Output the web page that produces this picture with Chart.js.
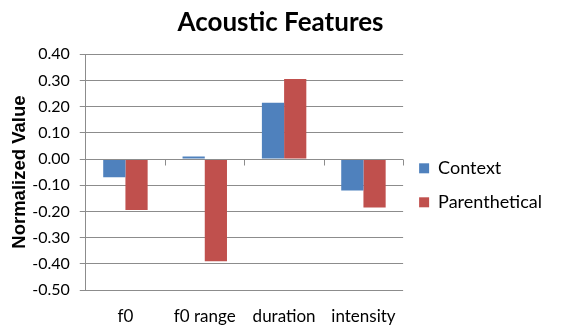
<!DOCTYPE html>
<html>
<head>
<meta charset="utf-8">
<script src="https://cdn.jsdelivr.net/npm/chart.js@4/dist/chart.umd.min.js"></script>
<style>
  html, body { margin: 0; padding: 0; background: #fff; }
  #wrap { width: 565px; height: 327px; }
</style>
</head>
<body>
<div id="wrap"><canvas id="chart" width="565" height="327"></canvas></div>
<script>
// Acoustic Features - grouped bars.
const categories   = ['f0', 'f0 range', 'duration', 'intensity'];
const context      = [-0.07, 0.01, 0.215, -0.12];
const parenthetical = [-0.195, -0.39, 0.305, -0.185];
const yTicks = [0.40, 0.30, 0.20, 0.10, 0.00, -0.10, -0.20, -0.30, -0.40, -0.50];

const BLUE = '#4F81BD';
const RED = '#C0504D';
const GRID = '#8c8c8c';
const FONT = 'Lato, "Open Sans", sans-serif';
const ARIAL = '"Liberation Sans", Arial, sans-serif';

// Excel draws the category axis at zero, with small tick marks between groups
const zeroAxis = {
  id: 'zeroAxis',
  afterDatasetsDraw(chart) {
    const { ctx, scales: { x, y } } = chart;
    const y0 = Math.round(y.getPixelForValue(0)) + 0.5;
    ctx.save();
    ctx.strokeStyle = GRID;
    ctx.lineWidth = 1;
    ctx.beginPath();
    ctx.moveTo(x.left, y0);
    ctx.lineTo(x.right, y0);
    for (let i = 1; i <= categories.length; i++) {
      const px = Math.round(x.getPixelForValue(i - 0.5)) + 0.5;
      ctx.moveTo(px, y0);
      ctx.lineTo(px, y0 + 6);
    }
    ctx.stroke();
    ctx.restore();
  },
};

new Chart(document.getElementById('chart'), {
  type: 'bar',
  data: {
    labels: categories,
    datasets: [
      { label: 'Context', data: context, backgroundColor: BLUE },
      { label: 'Parenthetical', data: parenthetical, backgroundColor: RED },
    ],
  },
  options: {
    responsive: false,
    animation: false,
    barPercentage: 1,
    categoryPercentage: 0.56,
    layout: { padding: { left: 9, right: 13, top: 0, bottom: 0 } },
    scales: {
      x: {
        grid: { display: false, drawTicks: false },
        border: { display: false },
        ticks: { color: '#000', font: { family: FONT, size: 17 }, padding: 16 },
        afterFit(scale) { scale.height = 37; },
      },
      y: {
        min: -0.5,
        max: 0.4,
        afterBuildTicks(axis) {
          axis.ticks = yTicks.map(v => ({ value: v }));
        },
        afterFit(scale) { scale.width -= 9; },
        grid: { color: GRID, tickLength: 6 },
        border: { color: GRID },
        ticks: {
          color: '#000',
          font: { family: FONT, size: 16 },
          padding: 10,
          callback: v => v.toFixed(2),
        },
        title: {
          display: true,
          text: 'Normalized Value',
          color: '#000',
          font: { family: ARIAL, size: 18.5, weight: 'bold' },
          padding: 0,
        },
      },
    },
    plugins: {
      title: {
        display: true,
        text: 'Acoustic Features',
        color: '#000',
        font: { family: FONT, size: 26, weight: 'bold' },
        padding: { top: 7, bottom: 16 },
      },
      legend: {
        position: 'right',
        maxWidth: 300,
        // empty title only pushes the entries down to where Excel put them
        title: { display: true, text: ' ', font: { family: FONT, size: 18 }, padding: 11 },
        labels: {
          color: '#000',
          font: { family: FONT, size: 18 },
          boxWidth: 10,
          boxHeight: 10,
          padding: 16,
        },
      },
      tooltip: { enabled: false },
    },
  },
  plugins: [zeroAxis],
});
</script>
</body>
</html>
